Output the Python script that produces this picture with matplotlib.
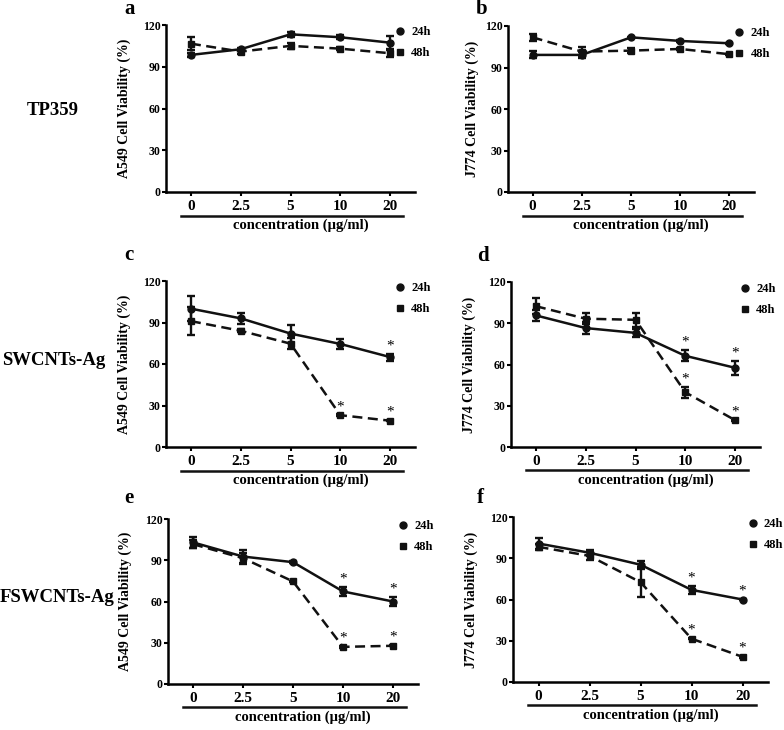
import matplotlib
matplotlib.use('Agg')
import matplotlib.pyplot as plt
import matplotlib.transforms as mtransforms
from matplotlib.lines import Line2D

plt.rcParams['font.family'] = 'Liberation Serif'
plt.rcParams['font.weight'] = 'bold'
plt.rcParams['axes.labelweight'] = 'bold'

conc_labels = ['0', '2.5', '5', '10', '20']

# panel a: TP359, A549
a_24 = [98.5, 102.6, 113.3, 111.2, 107.3]
a_24_err = [1.5, 1.0, 2.0, 1.5, 5.0]
a_48 = [106.6, 100.9, 105.0, 103.0, 99.7]
a_48_err = [4.5, 2.0, 2.0, 1.0, 3.0]
# panel b: TP359, J774
b_24 = [99.1, 99.1, 111.8, 109.2, 107.5]
b_24_err = [2.5, 2.0, 0.5, 0.5, 0.5]
b_48 = [111.8, 101.5, 102.2, 103.4, 99.6]
b_48_err = [2.5, 3.0, 2.0, 1.0, 0.5]
# panel c: SWCNTs-Ag, A549
c_24 = [100.0, 93.0, 82.0, 74.5, 65.0]
c_24_err = [9.0, 4.0, 6.5, 3.5, 2.5]
c_48 = [91.0, 84.0, 74.7, 23.0, 19.0]
c_48_err = [10.0, 1.0, 4.0, 0.5, 0.5]
# panel d: SWCNTs-Ag, J774
d_24 = [95.7, 86.5, 83.0, 66.3, 57.6]
d_24_err = [4.0, 4.5, 3.0, 4.0, 5.0]
d_48 = [102.4, 93.3, 92.5, 39.8, 19.5]
d_48_err = [6.0, 4.0, 5.0, 4.0, 0.5]
# panel e: FSWCNTs-Ag, A549
e_24 = [103.0, 92.7, 88.6, 67.3, 60.0]
e_24_err = [4.0, 5.0, 0.5, 3.0, 3.0]
e_48 = [101.7, 91.5, 74.6, 27.0, 27.8]
e_48_err = [3.0, 4.0, 0.5, 0.5, 0.5]
# panel f: FSWCNTs-Ag, J774
f_24 = [100.7, 94.0, 85.3, 67.0, 60.0]
f_24_err = [4.0, 2.0, 3.0, 3.0, 0.5]
f_48 = [98.3, 91.7, 72.6, 31.5, 18.3]
f_48_err = [2.0, 3.0, 11.0, 0.5, 0.5]

# significance marks (1 = asterisk)
no_star = [0, 0, 0, 0, 0]
c_star24 = [0, 0, 0, 0, 1]
star_10_20 = [0, 0, 0, 1, 1]

panels = [
    ('a', 'A549 Cell Viability (%)', a_24, a_24_err, a_48, a_48_err, no_star, no_star,
     [166, 192, 249, 167], -0.14),
    ('b', 'J774 Cell Viability (%)', b_24, b_24_err, b_48, b_48_err, no_star, no_star,
     [508, 192, 246, 166], -0.118),
    ('c', 'A549 Cell Viability (%)', c_24, c_24_err, c_48, c_48_err, c_star24, star_10_20,
     [166, 447, 249, 166], -0.14),
    ('d', 'J774 Cell Viability (%)', d_24, d_24_err, d_48, d_48_err, star_10_20, star_10_20,
     [511, 447, 249, 165], -0.142),
    ('e', 'A549 Cell Viability (%)', e_24, e_24_err, e_48, e_48_err, star_10_20, star_10_20,
     [168, 684, 250, 165], -0.146),
    ('f', 'J774 Cell Viability (%)', f_24, f_24_err, f_48, f_48_err, star_10_20, star_10_20,
     [513, 682, 255, 165], -0.136),
]
letter_pos = {'a': (130, 14), 'b': (482, 14), 'c': (129, 260), 'd': (483, 261),
              'e': (129, 503), 'f': (480, 503)}
row_labels = ['TP359', 'SWCNTs-Ag', 'FSWCNTs-Ag']
row_pos = [(53, 115), (54, 365), (57, 602)]

W, H = 784, 730
fig = plt.figure(figsize=(W / 100, H / 100), dpi=100)
x = list(range(len(conc_labels)))
ink = '#111111'

for letter, ylab, v24, e24, v48, e48, s24, s48, box, ylab_x in panels:
    left, bottom, w, h = box
    ax = fig.add_axes([left / W, (H - bottom) / H, w / W, h / H])
    ax.errorbar(x, v24, yerr=e24, color=ink, lw=1.8, ls='-', marker='o', ms=5,
                capsize=3, capthick=1.7, elinewidth=1.7)
    ax.errorbar(x, v48, yerr=e48, color=ink, lw=1.8, ls=(0, (4, 2.2)), marker='s', ms=5,
                capsize=3, capthick=1.7, elinewidth=1.7)
    for xi, v, e, s in zip(x, v24, e24, s24):
        if s:
            ax.annotate('*', (xi, v + e), xytext=(0, 1), textcoords='offset points',
                        ha='center', va='bottom', fontsize=11, fontweight='normal')
    for xi, v, e, s in zip(x, v48, e48, s48):
        if s:
            ax.annotate('*', (xi, v + e), xytext=(0, 1), textcoords='offset points',
                        ha='center', va='bottom', fontsize=11, fontweight='normal')

    ax.set_xlim(-0.5, 4.5)
    ax.set_ylim(0, 120)
    ax.set_yticks([0, 30, 60, 90, 120])
    ax.set_xticks(x)
    ax.set_xticklabels(conc_labels)
    for side in ['top', 'right']:
        ax.spines[side].set_visible(False)
    for side in ['left', 'bottom']:
        ax.spines[side].set_linewidth(1.8)
    ax.tick_params(axis='y', length=3, width=1.5, pad=1, labelsize=8.5)
    ax.tick_params(axis='x', length=3, width=1.5, pad=3, labelsize=11)
    ax.set_ylabel(ylab, fontsize=10)
    ax.yaxis.set_label_coords(ylab_x, 0.5)

    # underline below the tick labels and the concentration label
    trans = mtransforms.blended_transform_factory(ax.transData, ax.transAxes)
    ax.plot([-0.2, 4.26], [-0.142, -0.142], transform=trans, color=ink, lw=1.8,
            clip_on=False)
    ax.text(2.2, -0.2, 'concentration (\u00b5g/ml)', transform=trans, ha='center',
            va='center', fontsize=10.5)

    handles = [Line2D([], [], color=ink, marker='o', ls='none', ms=5),
               Line2D([], [], color=ink, marker='s', ls='none', ms=5)]
    ax.legend(handles, ['24h', '48h'], loc='upper left', bbox_to_anchor=(0.915, 1.0),
              frameon=False, fontsize=9, handlelength=0.8, handletextpad=0.5,
              labelspacing=0.7, borderpad=0.1, borderaxespad=0)

    lx, ly = letter_pos[letter]
    fig.text(lx / W, 1 - ly / H, letter, ha='center', va='baseline', fontsize=15)

for lab, (rx, ry) in zip(row_labels, row_pos):
    fig.text(rx / W, 1 - ry / H, lab, ha='center', va='baseline', fontsize=13.5)

fig.savefig('out.png', dpi=100)
